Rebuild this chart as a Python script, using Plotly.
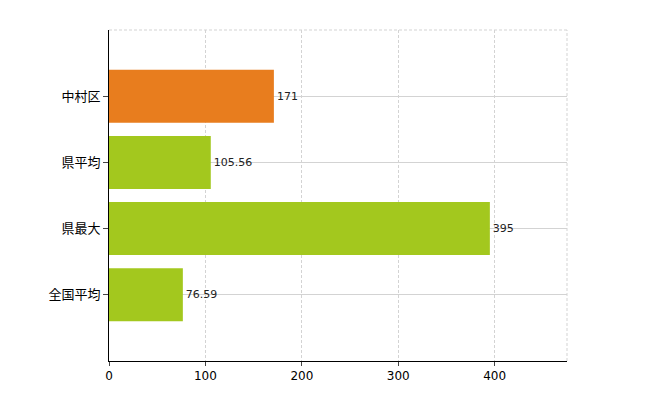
import plotly.graph_objects as go

categories = ["全国平均", "県最大", "県平均", "中村区"]
values = [76.59, 395, 105.56, 171]
labels = ["76.59", "395", "105.56", "171"]
colors = ["#a3c81e", "#a3c81e", "#a3c81e", "#e87d1e"]
x_ticks = [0, 100, 200, 300, 400]

fig = go.Figure(go.Bar(
    x=values, y=list(range(len(categories))), orientation="h",
    marker=dict(color=colors, line=dict(width=0)), width=0.8,
    text=labels, textposition="outside", cliponaxis=False,
    textfont=dict(family="DejaVu Sans", size=11, color="#222"),
))
fig.update_layout(
    width=650, height=400, plot_bgcolor="white", paper_bgcolor="white",
    margin=dict(l=101, r=91, t=22, b=47, autoexpand=False), showlegend=False,
    font=dict(family="Noto Sans CJK JP", size=13, color="black"),
)
fig.update_xaxes(range=[0, 475], tickvals=x_ticks, showgrid=True,
                 gridcolor="#d3d3d3", griddash="3px,2px", showline=True,
                 linecolor="black", ticks="outside", ticklen=4, automargin=False,
                 tickfont=dict(family="DejaVu Sans", size=12), zeroline=False)
fig.update_yaxes(range=[-1, 4], tickvals=[0, 1, 2, 3], ticktext=categories,
                 showgrid=True, gridcolor="#d3d3d3", showline=True, automargin=False,
                 linecolor="black", ticks="outside", ticklen=5, zeroline=False)
fig.add_shape(type="line", xref="paper", yref="paper", x0=0, x1=1, y0=1, y1=1,
              line=dict(color="#d3d3d3", width=1, dash="3px,2px"))
fig.add_shape(type="line", xref="paper", yref="paper", x0=1, x1=1, y0=0, y1=1,
              line=dict(color="#d3d3d3", width=1, dash="3px,2px"))
fig.write_html("out.html")
